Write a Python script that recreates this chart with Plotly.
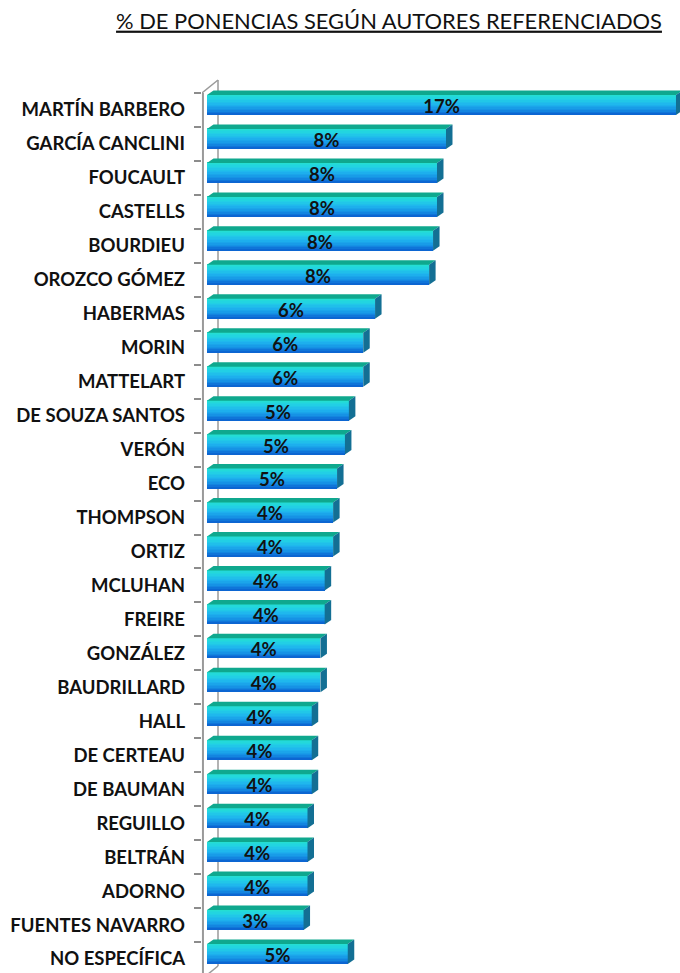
import plotly.graph_objects as go

# ---------------- data ----------------
authors = ["MARTÍN BARBERO", "GARCÍA CANCLINI", "FOUCAULT", "CASTELLS", "BOURDIEU",
           "OROZCO GÓMEZ", "HABERMAS", "MORIN", "MATTELART", "DE SOUZA SANTOS",
           "VERÓN", "ECO", "THOMPSON", "ORTIZ", "MCLUHAN", "FREIRE", "GONZÁLEZ",
           "BAUDRILLARD", "HALL", "DE CERTEAU", "DE BAUMAN", "REGUILLO", "BELTRÁN",
           "ADORNO", "FUENTES NAVARRO", "NO ESPECÍFICA"]
values = [16.66, 8.49, 8.17, 8.17, 8.03, 7.89, 5.97, 5.55, 5.55, 5.04,
          4.90, 4.62, 4.48, 4.48, 4.18, 4.18, 4.03, 4.03, 3.72, 3.72,
          3.72, 3.57, 3.57, 3.57, 3.43, 5.00]
labels = ["17%", "8%", "8%", "8%", "8%", "8%", "6%", "6%", "6%", "5%",
          "5%", "5%", "4%", "4%", "4%", "4%", "4%", "4%", "4%", "4%",
          "4%", "4%", "4%", "4%", "3%", "5%"]
title = "% DE PONENCIAS SEGÚN AUTORES REFERENCIADOS"

# ---------------- geometry / style ----------------
W, H = 680, 973
ML, MR, MT, MB = 202, 0, 78, 0
PX_X = 28.15          # pixels per percent unit
PX_Y = 33.96          # pixels per category
ZERO_PX = 207         # pixel of x = 0
CENTER0_PX = 110      # pixel of first category center

xmin = -(ZERO_PX - ML) / PX_X
xmax = xmin + (W - ML - MR) / PX_X
ytop = (MT - CENTER0_PX) / PX_Y
ybot = (H - MB - CENTER0_PX) / PX_Y

pos = list(range(len(authors)))

front_off = -15 / PX_Y      # top edge of front face relative to center
front_h = 20 / PX_Y         # front face height
top_h = 4.5 / PX_Y          # top face height
dx = 6.5 / PX_X             # depth offset in x

FONT = "Lato"

def hex2rgb(h):
    h = h.lstrip('#')
    return tuple(int(h[i:i + 2], 16) for i in (0, 2, 4))

stops = [(0.0, "#24E0D0"), (0.22, "#22D2E4"), (0.5, "#1EB4EE"), (0.78, "#158EE4"), (1.0, "#0A5ECF")]

def grad(t):
    for (t0, c0), (t1, c1) in zip(stops[:-1], stops[1:]):
        if t0 <= t <= t1:
            f = (t - t0) / (t1 - t0)
            a, b = hex2rgb(c0), hex2rgb(c1)
            return "rgb(%d,%d,%d)" % tuple(round(a[i] + (b[i] - a[i]) * f) for i in range(3))
    return stops[-1][1]

fig = go.Figure()

# front face as gradient strips
N = 14
sh = front_h / N
for k in range(N):
    fig.add_trace(go.Bar(
        x=values, y=pos, orientation="h", base=0,
        width=sh * 1.35 if k < N - 1 else sh,
        offset=front_off + k * sh,
        marker=dict(color=grad((k + 0.5) / N), line=dict(width=0)),
        hoverinfo="skip", showlegend=False,
    ))

# value labels
fig.add_trace(go.Scatter(
    x=[v / 2 for v in values], y=[p - 0.05 for p in pos], mode="text",
    text=labels, textposition="middle center",
    textfont=dict(family=FONT, size=18.5, color="#111111", weight="bold"),
    hoverinfo="skip", showlegend=False, cliponaxis=False,
))

shapes = []
# 3D wall lines
back_x = (218 - ZERO_PX) / PX_X
shapes.append(dict(type="line", xref="x", yref="y", x0=back_x, x1=back_x,
                   y0=-0.5 - 13 / PX_Y, y1=(966 - CENTER0_PX) / PX_Y,
                   line=dict(color="#9A9A9A", width=1.5), layer="below"))
shapes.append(dict(type="line", xref="paper", yref="y", x0=0.002, x1=0.002,
                   y0=-0.5, y1=ybot, line=dict(color="#9A9A9A", width=2), layer="below"))
shapes.append(dict(type="line", xref="x", yref="y", x0=xmin, x1=back_x,
                   y0=-0.5, y1=-0.5 - 13 / PX_Y,
                   line=dict(color="#9A9A9A", width=1.5), layer="below"))
shapes.append(dict(type="line", xref="x", yref="y", x0=back_x, x1=xmin,
                   y0=(966 - CENTER0_PX) / PX_Y, y1=(966 - CENTER0_PX) / PX_Y + 13 / PX_Y,
                   line=dict(color="#9A9A9A", width=1.5), layer="below"))

for p, v in zip(pos, values):
    yb = p + front_off
    yt = yb - top_h
    # top face
    shapes.append(dict(type="path", xref="x", yref="y",
                       path=f"M {0:.4f},{yb:.4f} L {v:.4f},{yb:.4f} L {v+dx:.4f},{yt:.4f} L {dx:.4f},{yt:.4f} Z",
                       fillcolor="#0FA88E", line=dict(width=0), layer="above"))
    # side face
    ybb = yb + front_h
    shapes.append(dict(type="path", xref="x", yref="y",
                       path=f"M {v:.4f},{yb:.4f} L {v+dx:.4f},{yt:.4f} L {v+dx:.4f},{ybb-top_h:.4f} L {v:.4f},{ybb:.4f} Z",
                       fillcolor="#136F94", line=dict(width=0), layer="above"))

fig.update_layout(
    width=W, height=H,
    margin=dict(l=ML, r=MR, t=MT, b=MB, pad=0),
    paper_bgcolor="white", plot_bgcolor="white",
    barmode="overlay", bargap=0,
    shapes=shapes,
    title=dict(text=title, x=389 / W, xref="container", xanchor="center",
               y=1 - 21 / H, yref="container", yanchor="middle",
               font=dict(family=FONT, size=21.9, color="#111111", weight="normal",
                         lineposition="under")),
    xaxis=dict(range=[xmin, xmax], visible=False, fixedrange=True),
    yaxis=dict(range=[ybot, ytop], tickmode="array", tickvals=pos, ticktext=authors,
               ticks="", showgrid=False, zeroline=False, showline=False,
               ticklabelstandoff=16,
               tickfont=dict(family=FONT, size=18.5, color="#111111", weight="bold"),
               minor=dict(tickmode="array", tickvals=[p - 0.5 for p in pos],
                          ticks="outside", ticklen=7, tickwidth=1.5, tickcolor="#8C8C8C",
                          showgrid=False),
               fixedrange=True),
)

fig.write_html("out.html", config={"displayModeBar": False},
               post_script="document.body.style.margin='0';document.body.style.padding='0';")
